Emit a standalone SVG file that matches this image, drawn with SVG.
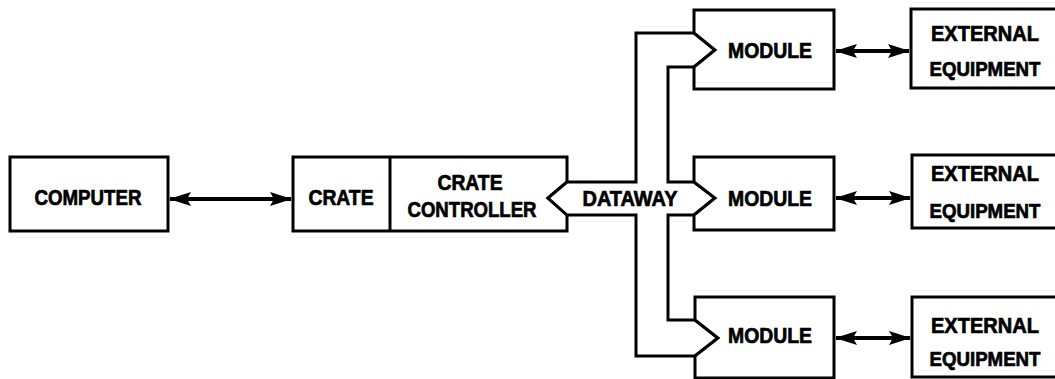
<svg xmlns="http://www.w3.org/2000/svg" width="1055" height="379" viewBox="0 0 1055 379">
  <style>
    .box { fill: #fff; stroke: #000; stroke-width: 3; stroke-linejoin: miter; }
    .lbl { font-family: "Liberation Sans", Arial, sans-serif; font-weight: bold; font-size: 22px; fill: #000; stroke: #000; stroke-width: 0.7; text-anchor: middle; }
    .eq { font-size: 20.5px; }
    .arrow { stroke: #000; stroke-width: 4; fill: none; marker-start: url(#head); marker-end: url(#head); }
  </style>
  <defs>
    <marker id="head" viewBox="0 0 22 14" refX="21" refY="7" markerWidth="22" markerHeight="14" markerUnits="userSpaceOnUse" orient="auto-start-reverse">
      <path d="M0,0 L22,7 L0,14 L4,7 Z" fill="#000"/>
    </marker>
  </defs>
  <rect width="1055" height="379" fill="#fff"/>

  <g id="computer">
    <rect class="box" x="10" y="157" width="158" height="74"/>
    <text class="lbl" x="88" y="205" textLength="107" lengthAdjust="spacingAndGlyphs">COMPUTER</text>
  </g>

  <g id="crate">
    <path class="box" d="M293,157 L567,157 L567,182 L548,198 L567,215 L567,231 L293,231 Z"/>
    <line x1="390" y1="157" x2="390" y2="231" stroke="#000" stroke-width="3"/>
    <text class="lbl" x="341" y="205" textLength="65" lengthAdjust="spacingAndGlyphs">CRATE</text>
  </g>

  <g id="crate-controller">
    <text class="lbl" x="470" y="190" textLength="65" lengthAdjust="spacingAndGlyphs">CRATE</text>
    <text class="lbl" x="472" y="217" textLength="129" lengthAdjust="spacingAndGlyphs">CONTROLLER</text>
  </g>

  <g id="dataway">
    <path class="box" d="M567,182 L636,182 L636,33 L694,33 L715,50 L694,67 L668,67 L668,182 L694,182 L715,198 L694,215 L668,215 L668,320 L695,320 L718,338 L695,356 L636,356 L636,215 L567,215 L548,198 Z"/>
    <text class="lbl" x="630" y="206" textLength="95" lengthAdjust="spacingAndGlyphs">DATAWAY</text>
  </g>

  <g id="module1">
    <path class="box" d="M694,10 L834,10 L834,89 L694,89 L694,67 L715,50 L694,33 Z"/>
    <text class="lbl" x="770" y="58" textLength="84" lengthAdjust="spacingAndGlyphs">MODULE</text>
  </g>
  <g id="module2">
    <path class="box" d="M694,157 L834,157 L834,230 L694,230 L694,215 L715,198 L694,182 Z"/>
    <text class="lbl" x="770" y="206" textLength="84" lengthAdjust="spacingAndGlyphs">MODULE</text>
  </g>
  <g id="module3">
    <path class="box" d="M695,297 L834,297 L834,378 L695,378 L695,356 L718,338 L695,320 Z"/>
    <text class="lbl" x="770" y="343" textLength="84" lengthAdjust="spacingAndGlyphs">MODULE</text>
  </g>

  <g id="external1">
    <path class="box" d="M1055,9 L911,9 L911,88 L1055,88"/>
    <text class="lbl" x="985" y="41" textLength="108" lengthAdjust="spacingAndGlyphs">EXTERNAL</text>
    <text class="lbl eq" x="985" y="76" textLength="111" lengthAdjust="spacingAndGlyphs">EQUIPMENT</text>
  </g>
  <g id="external2">
    <path class="box" d="M1055,155 L912,155 L912,228 L1055,228"/>
    <text class="lbl" x="985" y="181" textLength="108" lengthAdjust="spacingAndGlyphs">EXTERNAL</text>
    <text class="lbl eq" x="985" y="218" textLength="111" lengthAdjust="spacingAndGlyphs">EQUIPMENT</text>
  </g>
  <g id="external3">
    <path class="box" d="M1055,297 L912,297 L912,377 L1055,377"/>
    <text class="lbl" x="985" y="333" textLength="108" lengthAdjust="spacingAndGlyphs">EXTERNAL</text>
    <text class="lbl eq" x="985" y="366" textLength="111" lengthAdjust="spacingAndGlyphs">EQUIPMENT</text>
  </g>

  <g id="connectors">
    <path class="arrow" d="M170,199 L291,199"/>
    <path class="arrow" d="M836,51 L909,51"/>
    <path class="arrow" d="M836,198 L910,198"/>
    <path class="arrow" d="M836,338 L910,338"/>
  </g>
</svg>
